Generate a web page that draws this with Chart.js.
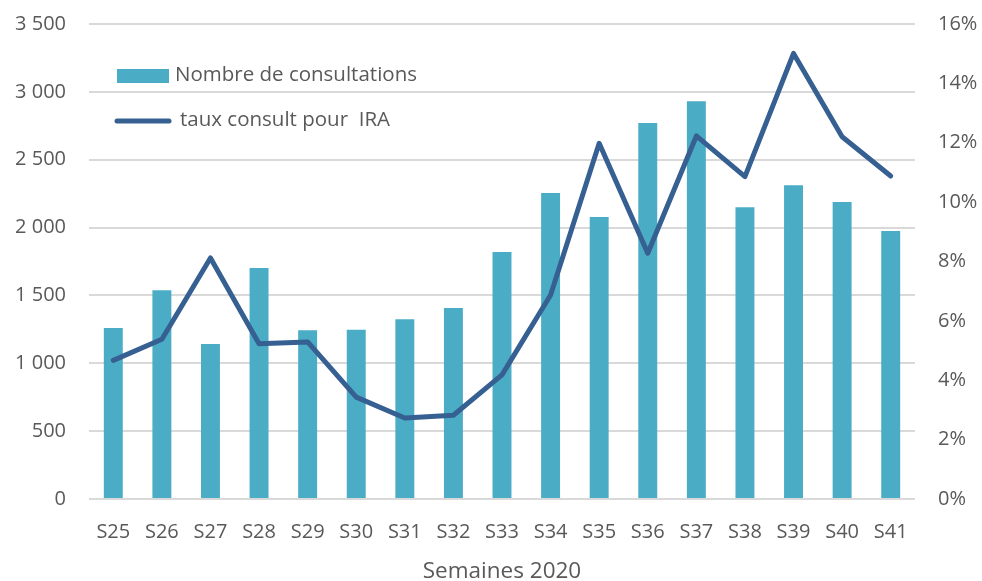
<!DOCTYPE html>
<html>
<head>
<meta charset="utf-8">
<script src="https://cdn.jsdelivr.net/npm/chart.js@4/dist/chart.umd.min.js"></script>
<style>
html,body{margin:0;padding:0;background:#fff;}
#wrap{width:982px;height:581px;position:relative;}
</style>
</head>
<body>
<div id="wrap"><canvas id="c" width="982" height="581"></canvas></div>
<script>
const categories = ["S25","S26","S27","S28","S29","S30","S31","S32","S33","S34","S35","S36","S37","S38","S39","S40","S41"];
const consultations = [1260,1538,1142,1702,1243,1248,1324,1407,1820,2255,2078,2771,2930,2149,2311,2188,1975];
const tauxIRA = [4.67,5.38,8.12,5.23,5.29,3.43,2.73,2.82,4.18,6.87,11.98,8.28,12.23,10.86,15.01,12.2,10.88];
const leftTicks = [0,500,1000,1500,2000,2500,3000,3500];
const rightTicks = [0,2,4,6,8,10,12,14,16];
const seriesNames = ["Nombre de consultations","taux consult pour  IRA"];
const xTitle = "Semaines 2020";

const FONT = "'Open Sans'";
const TXT = "#595959";
const BAR = "#4BACC6";
const LINE = "#376092";
const GRID = "#D9D9D9";

const legendPlugin = {
  id: 'insideLegend',
  afterDraw(chart) {
    const ctx = chart.ctx;
    const barDs = chart.data.datasets.find(d => d.type === 'bar');
    const lineDs = chart.data.datasets.find(d => d.type === 'line');
    ctx.save();
    ctx.font = "20.5px " + FONT;
    ctx.textBaseline = "middle";
    ctx.textAlign = "left";
    ctx.fillStyle = BAR;
    ctx.fillRect(117, 69, 52, 14);
    ctx.fillStyle = TXT;
    ctx.fillText(barDs.label, 175, 75);
    ctx.strokeStyle = LINE;
    ctx.lineWidth = 5;
    ctx.lineCap = "round";
    ctx.beginPath();
    ctx.moveTo(117, 121);
    ctx.lineTo(169, 121);
    ctx.stroke();
    ctx.fillText(lineDs.label, 180, 120);
    ctx.restore();
  }
};

function fmtThousands(v){
  return String(v).replace(/\B(?=(\d{3})+(?!\d))/g, " ");
}
function noPadV(s){ s.paddingTop = 0; s.paddingBottom = 0; }

new Chart(document.getElementById('c'), {
  type: 'bar',
  data: {
    labels: categories,
    datasets: [
      {
        type: 'line',
        label: seriesNames[1],
        data: tauxIRA,
        yAxisID: 'y1',
        borderColor: LINE,
        backgroundColor: LINE,
        borderWidth: 5,
        pointRadius: 0,
        tension: 0,
        borderJoinStyle: 'round',
        borderCapStyle: 'round',
        order: 0
      },
      {
        type: 'bar',
        label: seriesNames[0],
        data: consultations,
        yAxisID: 'y',
        backgroundColor: BAR,
        barPercentage: 0.39,
        categoryPercentage: 1,
        order: 1
      }
    ]
  },
  options: {
    responsive: false,
    animation: false,
    devicePixelRatio: 1,
    layout: { padding: { top: 24, left: 0, right: 0, bottom: 0 } },
    plugins: {
      legend: { display: false },
      tooltip: { enabled: false }
    },
    scales: {
      x: {
        grid: { display: false, drawTicks: false },
        border: { display: false },
        ticks: { color: TXT, font: { family: FONT, size: 20 }, padding: 21, maxRotation: 0, autoSkip: false },
        title: { display: true, text: xTitle, color: TXT, font: { family: FONT, size: 22.5 }, padding: { top: 0, bottom: -4 } },
        afterFit(s){ s.height = 82; s.paddingLeft = 0; s.paddingRight = 0; }
      },
      y: {
        position: 'left',
        min: 0, max: 3500,
        afterBuildTicks(s){ s.ticks = leftTicks.map(v => ({value: v})); },
        grid: { color: GRID, lineWidth: 2, drawTicks: false },
        border: { display: false },
        ticks: { color: TXT, font: { family: FONT, size: 20 }, padding: 23, callback: v => fmtThousands(v) },
        afterFit(s){ s.width = 89; noPadV(s); }
      },
      y1: {
        position: 'right',
        min: 0, max: 16,
        afterBuildTicks(s){ s.ticks = rightTicks.map(v => ({value: v})); },
        grid: { display: false, drawTicks: false },
        border: { display: false },
        ticks: { color: TXT, font: { family: FONT, size: 20 }, padding: 23, callback: v => v + "%" },
        afterFit(s){ s.width = 67; noPadV(s); }
      }
    }
  },
  plugins: [legendPlugin]
});
</script>
</body>
</html>
